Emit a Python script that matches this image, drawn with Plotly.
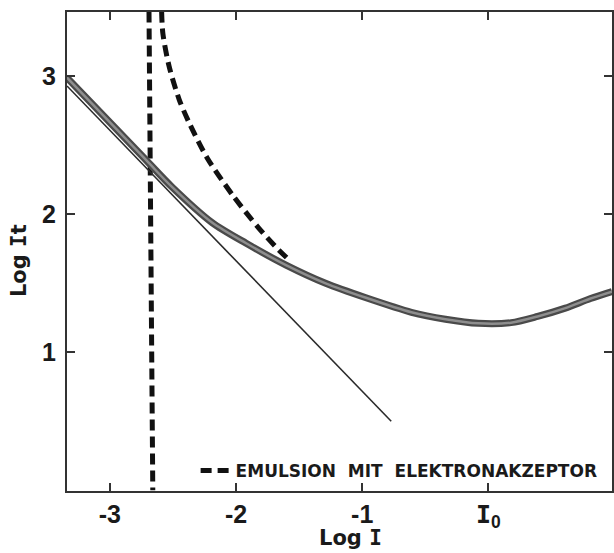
import plotly.graph_objects as go

# ---- data ----
thin_x = [-3.34, -0.77]
thin_y = [2.93, 0.50]

thick_x = [-3.34, -2.71, -2.51, -2.19, -1.92, -1.60, -1.29, -0.97, -0.61,
           -0.34, -0.08, 0.18, 0.39, 0.61, 0.81, 0.98]
thick_y = [2.99, 2.39, 2.20, 1.94, 1.79, 1.63, 1.50, 1.395, 1.29,
           1.24, 1.21, 1.215, 1.26, 1.32, 1.39, 1.44]

dash_x = [-2.59, -2.58, -2.53, -2.45, -2.37, -2.23, -2.02, -1.82, -1.66, -1.58]
dash_y = [3.47, 3.31, 3.07, 2.83, 2.66, 2.41, 2.13, 1.90, 1.74, 1.67]

vert_x = [-2.69, -2.66]
vert_y = [3.47, 0.0]

x_tickvals = [-3, -2, -1, 0]
x_ticktext = ["-3", "-2", "-1",
              "<span style='font-family:DejaVu Sans Mono'>I</span><sub>0</sub>"]
y_tickvals = [1, 2, 3]
y_ticktext = ["1", "2", "3"]

legend_name = "EMULSION  MIT  ELEKTRONAKZEPTOR"

DASH = "11px,6px"

fig = go.Figure()
fig.add_trace(go.Scatter(x=vert_x, y=vert_y, mode="lines", showlegend=False,
                         line=dict(color="#111", width=5, dash=DASH)))
fig.add_trace(go.Scatter(x=dash_x, y=dash_y, mode="lines", name=legend_name,
                         line=dict(color="#111", width=5, dash=DASH, shape="spline",
                                   smoothing=0.8)))
fig.add_trace(go.Scatter(x=thin_x, y=thin_y, mode="lines", showlegend=False,
                         line=dict(color="#2a2a2a", width=1.6)))
fig.add_trace(go.Scatter(x=thick_x, y=thick_y, mode="lines", showlegend=False,
                         line=dict(color="#4a4a4a", width=7, shape="spline",
                                   smoothing=0.8)))
fig.add_trace(go.Scatter(x=thick_x, y=thick_y, mode="lines", showlegend=False,
                         line=dict(color="#8e8e8e", width=2.5, shape="spline",
                                   smoothing=0.8)))

axis_common = dict(showgrid=False, zeroline=False, showline=True, linecolor="#333",
                   linewidth=2, ticks="inside", ticklen=8, tickwidth=1.6,
                   tickcolor="#333", mirror="ticks",
                   tickfont=dict(family="Liberation Sans", size=25, color="#1a1a1a",
                                 weight="bold"))

fig.update_layout(
    width=614, height=553,
    margin=dict(l=67, r=0, t=12, b=62),
    paper_bgcolor="white", plot_bgcolor="white",
    xaxis=dict(range=[-3.34, 0.98], tickvals=x_tickvals, ticktext=x_ticktext,
               ticklabelstandoff=0, **axis_common),
    yaxis=dict(range=[-0.005, 3.466], tickvals=y_tickvals, ticktext=y_ticktext,
               ticklabelstandoff=4, **axis_common),
    legend=dict(x=0.236, y=0.042, xanchor="left", yanchor="middle",
                bgcolor="rgba(0,0,0,0)", borderwidth=0,
                font=dict(family="DejaVu Sans", size=17, color="#1a1a1a",
                          weight="bold")),
    showlegend=True,
    annotations=[
        dict(text="Log <span style='font-family:DejaVu Sans Mono'>I</span>",
             xref="paper", yref="paper", x=0.521, y=-0.098,
             xanchor="center", yanchor="middle", showarrow=False,
             font=dict(family="DejaVu Sans", size=21, color="#1a1a1a", weight="bold")),
        dict(text="Log <span style='font-family:DejaVu Sans Mono'>I</span>t",
             xref="paper", yref="paper", x=-0.088, y=0.48, textangle=-90,
             xanchor="center", yanchor="middle", showarrow=False,
             font=dict(family="DejaVu Sans", size=21, color="#1a1a1a", weight="bold")),
    ],
)

fig.write_html("out.html")
